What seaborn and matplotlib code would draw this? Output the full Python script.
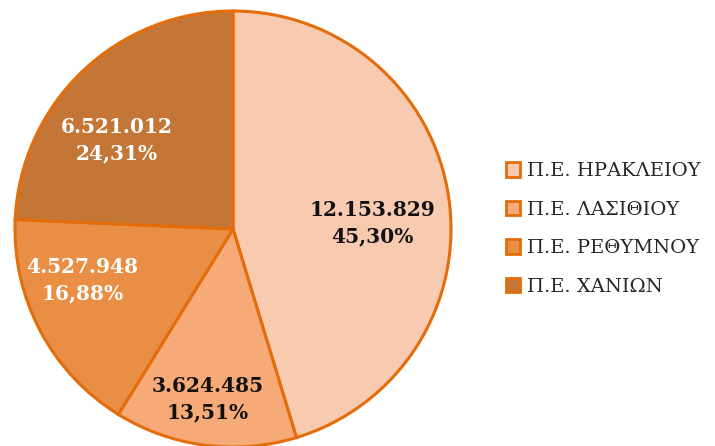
import matplotlib
matplotlib.use("Agg")
import matplotlib.pyplot as plt
import seaborn as sns
import numpy as np
from matplotlib.patches import Patch

sns.set_theme(style="white")
plt.rcParams['font.family'] = ['DejaVu Serif']

regions = ["Π.Ε. ΗΡΑΚΛΕΙΟΥ", "Π.Ε. ΛΑΣΙΘΙΟΥ", "Π.Ε. ΡΕΘΥΜΝΟΥ", "Π.Ε. ΧΑΝΙΩΝ"]
values = [12153829, 3624485, 4527948, 6521012]
colors = ["#F8CBB1", "#F5AA78", "#E88F45", "#C37635"]
text_colors = ["#111111", "#111111", "#FFFFFF", "#FFFFFF"]
# label placement inside each wedge: distance from centre and angular nudge (deg)
label_radius = [0.64, 0.79, 0.73, 0.67]
label_nudge = [-6, -1, -9, 9]
edge = "#E46C0A"

def fmt_int(v):
    return f"{v:,}".replace(",", ".")

def fmt_pct(p):
    return f"{p:.2f}".replace(".", ",") + "%"

fig = plt.figure(figsize=(7.15, 4.46), dpi=100)
R = 218
cx, cy = 233, 446 - 229
ax = fig.add_axes([(cx - R) / 715, (cy - R) / 446, 2 * R / 715, 2 * R / 446])

wedges, _ = ax.pie(values, colors=colors, startangle=90, counterclock=False,
                   wedgeprops=dict(edgecolor=edge, linewidth=2.2))
ax.set_xlim(-1, 1)
ax.set_ylim(-1, 1)
ax.set_aspect("equal")
ax.axis("off")

total = sum(values)
for w, v, tc, r, dn in zip(wedges, values, text_colors, label_radius, label_nudge):
    ang = np.deg2rad((w.theta1 + w.theta2) / 2 + dn)
    ax.text(r * np.cos(ang), r * np.sin(ang),
            f"{fmt_int(v)}\n{fmt_pct(100 * v / total)}",
            ha="center", va="center", color=tc, fontsize=14.5,
            fontweight="bold", linespacing=1.4)

handles = [Patch(facecolor=c, edgecolor=edge, linewidth=2.0) for c in colors]
fig.legend(handles, regions, loc="center left", bbox_to_anchor=(488 / 715, 1 - 229 / 446),
           frameon=False, handlelength=0.75, handleheight=0.75,
           handletextpad=0.35, labelspacing=1.05,
           prop={"family": "DejaVu Serif", "size": 14})

fig.savefig("out.png", dpi=100)
